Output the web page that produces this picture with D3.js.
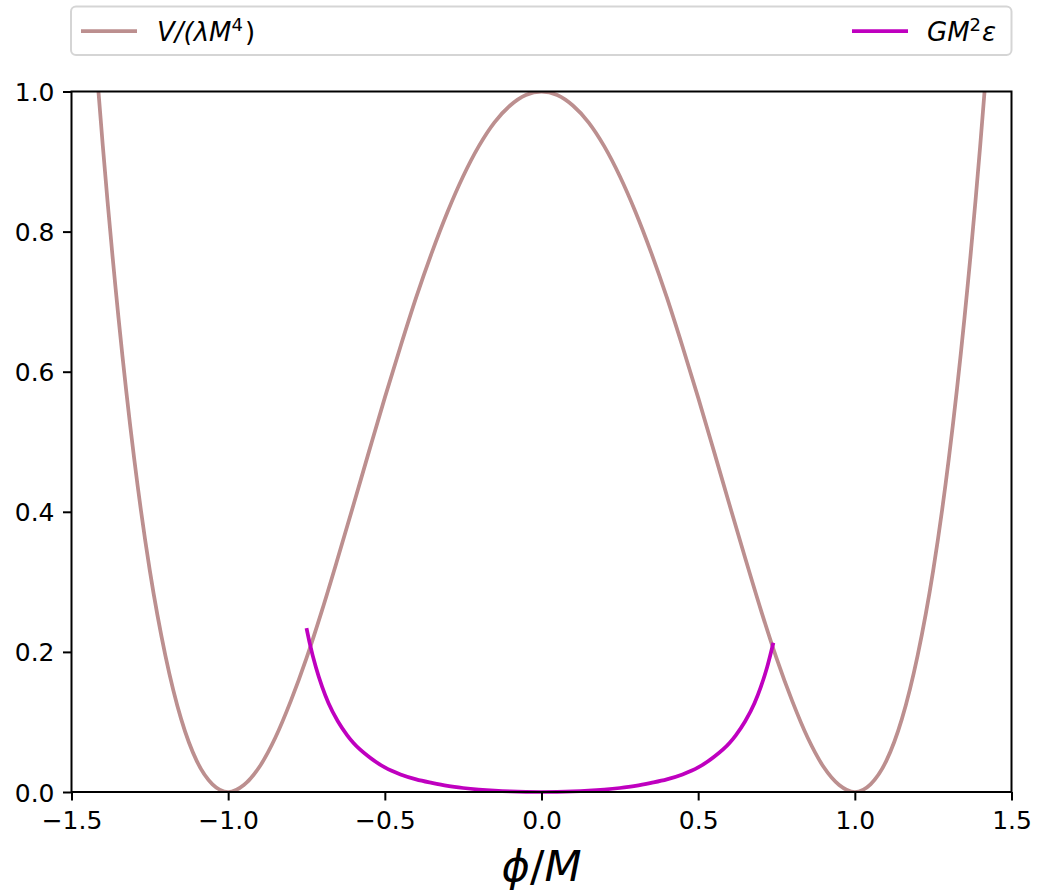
<!DOCTYPE html>
<html>
<head>
<meta charset="utf-8">
<script src="https://cdn.jsdelivr.net/npm/d3@7"></script>
<style>
  body { margin: 0; background: #fff; }
  text { font-family: "DejaVu Sans", sans-serif; }
</style>
</head>
<body>
<div id="chart"></div>
<script>
// potential V/(lambda M^4)
const phiV = [-1.414, -1.4, -1.35, -1.3, -1.25, -1.2, -1.15, -1.1, -1.05, -1.0,
  -0.95, -0.9, -0.85, -0.8, -0.75, -0.7, -0.65, -0.6, -0.55, -0.5,
  -0.45, -0.4, -0.35, -0.3, -0.25, -0.2, -0.15, -0.1, -0.05, 0,
  0.05, 0.1, 0.15, 0.2, 0.25, 0.3, 0.35, 0.4, 0.45, 0.5,
  0.55, 0.6, 0.65, 0.7, 0.75, 0.8, 0.85, 0.9, 0.95, 1.0,
  1.05, 1.1, 1.15, 1.2, 1.25, 1.3, 1.35, 1.4, 1.414];
const valV = [1.0, 0.922, 0.677, 0.476, 0.316, 0.194, 0.104, 0.044, 0.011, 0,
  0.010, 0.036, 0.077, 0.130, 0.191, 0.260, 0.334, 0.410, 0.487, 0.563,
  0.636, 0.706, 0.770, 0.828, 0.879, 0.922, 0.956, 0.980, 0.995, 1.0,
  0.995, 0.980, 0.956, 0.922, 0.879, 0.828, 0.770, 0.706, 0.636, 0.563,
  0.487, 0.410, 0.334, 0.260, 0.191, 0.130, 0.077, 0.036, 0.010, 0,
  0.011, 0.044, 0.104, 0.194, 0.316, 0.476, 0.677, 0.922, 1.0];

// slow-roll parameter G M^2 epsilon
const phiEps = [-0.75, -0.74, -0.72, -0.7, -0.68, -0.65, -0.62, -0.6, -0.55, -0.5,
  -0.45, -0.4, -0.35, -0.3, -0.25, -0.2, -0.15, -0.1, -0.05, 0,
  0.05, 0.1, 0.15, 0.2, 0.25, 0.3, 0.35, 0.4, 0.45, 0.5,
  0.55, 0.6, 0.62, 0.65, 0.68, 0.7, 0.72, 0.74];
const valEps = [0.234, 0.213, 0.178, 0.150, 0.127, 0.101, 0.081, 0.070, 0.050, 0.035,
  0.025, 0.018, 0.013, 0.0087, 0.0057, 0.0035, 0.0019, 0.0008, 0.0002, 0,
  0.0002, 0.0008, 0.0019, 0.0035, 0.0057, 0.0087, 0.013, 0.018, 0.025, 0.035,
  0.050, 0.070, 0.081, 0.101, 0.127, 0.150, 0.178, 0.213];

const xTicks = [-1.5, -1.0, -0.5, 0.0, 0.5, 1.0, 1.5];
const yTicks = [0.0, 0.2, 0.4, 0.6, 0.8, 1.0];

const W = 1040, H = 894;
const M = { top: 91.5, right: 28.5, bottom: 102, left: 71.5 };
const PW = W - M.left - M.right;
const PH = H - M.top - M.bottom;
const LW = 3.75;       // line width
const FS = 25;         // tick / legend font size

const svg = d3.select("#chart").append("svg")
  .attr("width", W)
  .attr("height", H);

const g = svg.append("g")
  .attr("transform", `translate(${M.left}, ${M.top})`);

const x = d3.scaleLinear().domain([-1.5, 1.5]).range([0, PW]);
const y = d3.scaleLinear().domain([0, 1]).range([PH, 0]);

const fmt = d => d3.format(".1f")(d).replace("-", "\u2212");

g.append("clipPath").attr("id", "clip")
  .append("rect").attr("width", PW).attr("height", PH);

const line = d3.line()
  .x(d => x(d[0]))
  .y(d => y(d[1]))
  .curve(d3.curveMonotoneX);

g.append("path")
  .datum(d3.zip(phiV, valV))
  .attr("clip-path", "url(#clip)")
  .attr("fill", "none")
  .attr("stroke", "#bc8f8f")
  .attr("stroke-width", LW)
  .attr("d", line);

g.append("path")
  .datum(d3.zip(phiEps, valEps))
  .attr("fill", "none")
  .attr("stroke", "#bf00bf")
  .attr("stroke-width", LW)
  .attr("d", line);

// axes
const xAxis = g.append("g")
  .attr("transform", `translate(0, ${PH})`)
  .call(d3.axisBottom(x).tickValues(xTicks).tickFormat(fmt).tickSize(8.5).tickPadding(11).tickSizeOuter(0));
const yAxis = g.append("g")
  .call(d3.axisLeft(y).tickValues(yTicks).tickFormat(fmt).tickSize(8.5).tickPadding(8.5).tickSizeOuter(0));

[xAxis, yAxis].forEach(a => {
  a.selectAll(".domain").remove();
  a.selectAll("line").attr("stroke", "#000").attr("stroke-width", 2);
  a.selectAll("text")
    .attr("font-size", FS)
    .attr("fill", "#000")
    .style("font-family", "DejaVu Sans");
});
yAxis.selectAll("text").attr("dy", "0.36em");

// frame
g.append("rect")
  .attr("width", PW)
  .attr("height", PH)
  .attr("fill", "none")
  .attr("stroke", "#000")
  .attr("stroke-width", 2);

// x label
const xl = svg.append("text")
  .attr("x", M.left + x(0))
  .attr("y", 881)
  .attr("text-anchor", "middle")
  .attr("font-size", 43);
xl.append("tspan").attr("font-style", "italic").text("\u03d5");
xl.append("tspan").text("/");
xl.append("tspan").attr("font-style", "italic").text("M");

// legend
const leg = svg.append("g");
leg.append("rect")
  .attr("x", 71).attr("y", 6.5)
  .attr("width", 940.5).attr("height", 48.5)
  .attr("rx", 5)
  .attr("fill", "#fff")
  .attr("stroke", "#d5d5d5")
  .attr("stroke-width", 2);

leg.append("line")
  .attr("x1", 81).attr("x2", 137).attr("y1", 31).attr("y2", 31)
  .attr("stroke", "#bc8f8f").attr("stroke-width", LW);
const t1 = leg.append("text").attr("x", 157).attr("y", 41).attr("font-size", 26);
t1.append("tspan").attr("font-style", "italic").text("V");
t1.append("tspan").attr("font-style", "italic").text("/(");
t1.append("tspan").attr("font-style", "italic").text("\u03bbM");
t1.append("tspan").attr("font-size", 18).attr("dy", -10).text("4");
t1.append("tspan").attr("dy", 10).attr("dx", 2).text(")");

leg.append("line")
  .attr("x1", 852).attr("x2", 908).attr("y1", 31).attr("y2", 31)
  .attr("stroke", "#bf00bf").attr("stroke-width", LW);
const t2 = leg.append("text").attr("x", 927).attr("y", 41).attr("font-size", 26);
t2.append("tspan").attr("font-style", "italic").text("GM");
t2.append("tspan").attr("font-size", 18).attr("dy", -10).text("2");
t2.append("tspan").attr("font-style", "italic").attr("dy", 10).attr("dx", 1).text("\u03b5");
</script>
</body>
</html>
